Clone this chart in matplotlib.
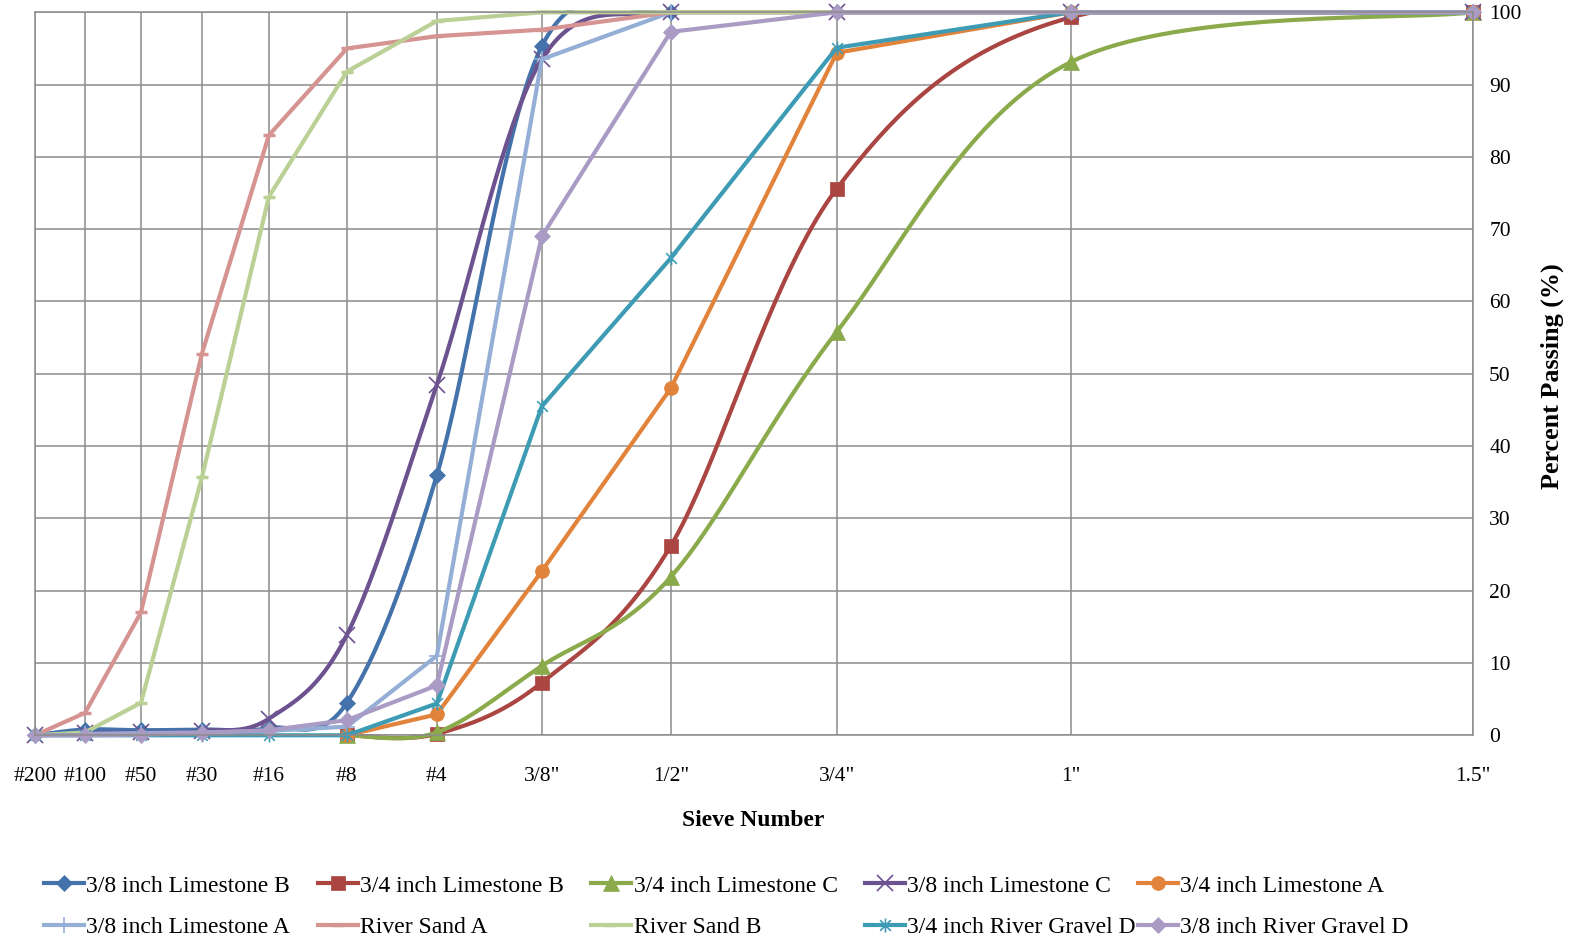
import numpy as np
import matplotlib
matplotlib.use("Agg")
import matplotlib.pyplot as plt
from matplotlib.path import Path
from matplotlib.transforms import Bbox, TransformedBbox

plt.rcParams['font.family'] = ['Liberation Serif', 'DejaVu Serif']

# sieve positions along the horizontal axis (chart units) and their labels
sieves = ['#200', '#100', '#50', '#30', '#16', '#8', '#4', '3/8"', '1/2"', '3/4"', '1"', '1.5"']
sieve_x = [0, 50, 106, 167, 234, 312, 402, 507, 636, 802, 1036, 1438]

# percent passing for each material (None = sieve not reported)
nan = None
lime_b_38 = [0, 0.8, 0.7, 0.8, 1.0, 4.5, 36.0, 95.3, 100, 100, 100, 100]
lime_b_34 = [nan, nan, nan, nan, nan, 0, 0.2, 7.3, 26.2, 75.6, 99.3, 100]
lime_c_34 = [nan, nan, nan, nan, nan, 0, 0.4, 9.6, 21.9, 55.8, 93.1, 100]
lime_c_38 = [0, 0.3, 0.4, 0.6, 2.3, 13.9, 48.5, 93.5, 100, 100, 100, 100]
lime_a_34 = [nan, nan, nan, nan, nan, 0, 2.9, 22.7, 48.0, 94.4, 100, 100]
lime_a_38 = [0, 0.2, 0.3, 0.4, 0.6, 1.2, 11.0, 93.5, 100, 100, 100, 100]
sand_a = [0, 3.1, 17.0, 52.8, 83.0, 95.0, 96.7, 97.6, 100, 100, 100, 100]
sand_b = [0, 0.4, 4.5, 35.7, 74.5, 91.8, 98.8, 100, 100, 100, 100, 100]
gravel_d_34 = [0, 0, 0, 0, 0, 0, 4.4, 45.5, 66.0, 95.1, 100, 100]
gravel_d_38 = [0, 0, 0.1, 0.3, 0.7, 2.1, 6.9, 69.0, 97.3, 100, 100, 100]

W, H = 1575, 946
fig = plt.figure(figsize=(W / 100, H / 100), dpi=100)
left, right, top, bottom = 35, 1472.5, 12.3, 735.3
ax = fig.add_axes([left / W, 1 - bottom / H, (right - left) / W, (bottom - top) / H])
ax.set_xlim(sieve_x[0], sieve_x[-1])
ax.set_ylim(0, 100)

# pixel scale of each axis, used so the smoothing is done in screen space
sx = (right - left) / (sieve_x[-1] - sieve_x[0])
sy = (bottom - top) / 100.0


def smooth(x, y, n=40):
    # bezier curve through the points, control points at 1/6 of neighbour chord
    p = np.column_stack([np.asarray(x, float) * sx, np.asarray(y, float) * sy])
    out = [p[0]]
    t = np.linspace(0, 1, n)[1:, None]
    for i in range(len(p) - 1):
        p0 = p[i - 1] if i > 0 else p[i]
        p1, p2 = p[i], p[i + 1]
        p3 = p[i + 2] if i + 2 < len(p) else p[i + 1]
        c1 = p1 + (p2 - p0) / 6
        c2 = p2 - (p3 - p1) / 6
        seg = (1 - t)**3 * p1 + 3 * (1 - t)**2 * t * c1 + 3 * (1 - t) * t**2 * c2 + t**3 * p2
        out.extend(seg)
    out = np.array(out)
    return out[:, 0] / sx, out[:, 1] / sy


asterisk = Path([(-1, -1), (1, 1), (-1, 1), (1, -1), (0, -1.3), (0, 1.3)],
                [Path.MOVETO, Path.LINETO, Path.MOVETO, Path.LINETO, Path.MOVETO, Path.LINETO])

series = [
    ('3/8 inch Limestone B', lime_b_38, '#4472AA', 'D', 8, True),
    ('3/4 inch Limestone B', lime_b_34, '#AA4542', 's', 10, True),
    ('3/4 inch Limestone C', lime_c_34, '#8BAA4B', '^', 11, True),
    ('3/8 inch Limestone C', lime_c_38, '#6D5290', 'x', 11, True),
    ('3/4 inch Limestone A', lime_a_34, '#E2833B', 'o', 10, False),
    ('3/8 inch Limestone A', lime_a_38, '#94AED6', '+', 11, False),
    ('River Sand A', sand_a, '#D59391', '_', 9, False),
    ('River Sand B', sand_b, '#BAD095', '_', 9, False),
    ('3/4 inch River Gravel D', gravel_d_34, '#3D9CB4', asterisk, 10, False),
    ('3/8 inch River Gravel D', gravel_d_38, '#A99BC4', 'D', 8, False),
]

# lines may spill a few pixels past the plot frame, like the spreadsheet chart
clip = TransformedBbox(Bbox([[-0.02, -8 / 723], [1.02, 1 + 2.5 / 723]]), ax.transAxes)

handles = []
for name, vals, col, mk, ms, smoothed in series:
    xs = [x for x, v in zip(sieve_x, vals) if v is not None]
    ys = [v for v in vals if v is not None]
    if smoothed:
        lx, ly = smooth(xs, ys)
    else:
        lx, ly = xs, ys
    line, = ax.plot(lx, ly, color=col, lw=3.0, solid_capstyle='round')
    line.set_clip_box(clip)
    thin = mk in ('x', '+') or mk is asterisk
    mew = 1.2 if thin else (2.5 if mk == '_' else 0.5)
    ax.plot(xs, ys, ls='none', marker=mk, ms=ms, color=col, mew=mew, clip_on=False)
    h, = ax.plot([], [], color=col, lw=3.0, marker=mk, ms=ms, mew=mew)
    handles.append((h, name))

# axes styling
grid_col = '#8C8C8C'
ax.set_xticks(sieve_x)
ax.set_xticklabels(sieves)
ax.set_yticks(np.arange(0, 101, 10))
ax.yaxis.tick_right()
ax.tick_params(axis='both', length=0, labelsize=15.5)
ax.tick_params(axis='x', pad=23)
ax.tick_params(axis='y', pad=12)
ax.grid(True, color=grid_col, lw=1.1)
ax.set_axisbelow(True)
for sp in ax.spines.values():
    sp.set_color(grid_col)
    sp.set_linewidth(1.1)

fig.text(753 / W, 1 - 821 / H, 'Sieve Number', ha='center', va='center',
         fontsize=17, fontweight='bold')
fig.text(1552 / W, 1 - 376 / H, 'Percent Passing (%)', ha='center', va='center',
         rotation=90, fontsize=18.8, fontweight='bold')

# legend: five fixed-width columns, two rows each
for c in range(5):
    pair = [handles[c], handles[c + 5]]
    fig.legend([p[0] for p in pair], [p[1] for p in pair],
               loc='upper left', bbox_to_anchor=((44 + 273.5 * c) / W, 1 - 875 / H),
               frameon=False, fontsize=17, handlelength=1.7, handletextpad=0.1,
               labelspacing=0.86, borderpad=0, borderaxespad=0)

fig.savefig('out.png', dpi=100)
